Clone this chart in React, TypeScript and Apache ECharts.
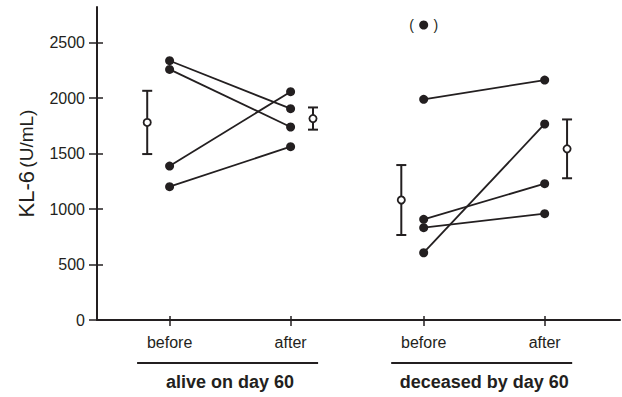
import React, { useEffect, useRef } from "react";
import * as echarts from "echarts";

// ---- data ----
const yTicks = [0, 500, 1000, 1500, 2000, 2500];
const yMax = 2820;
const timepoints = ["before", "after", "before", "after"];
const timepointPos = [1.2, 3.2, 5.4, 7.4];
const groups = ["alive on day 60", "deceased by day 60"];
const aliveBefore = [2336, 2258, 1387, 1201];
const aliveAfter = [1904, 1739, 2057, 1562];
const deceasedBefore = [1988, 606, 907, 832];
const deceasedAfter = [2162, 1766, 1228, 958];
const deceasedBeforeOutlier = [2658];
const meanValues = [1780, 1815, 1081, 1542];
const sdValues = [285, 100, 315, 265];

// ---- style ----
const INK = "#231f20";
const FONT = "'Liberation Sans', Arial, Helvetica, sans-serif";
const MEAN_OFFSET = 0.37;
const meanSide = [-1, 1, -1, 1];

export default function App() {
  const ref = useRef<HTMLDivElement>(null);

  useEffect(() => {
    if (!ref.current) return;
    const chart = echarts.init(ref.current, null, { renderer: "svg" });

    const subjectSeries: any[] = [];
    const addGroup = (before: number[], after: number[], bIdx: number, aIdx: number) => {
      before.forEach((v, i) => {
        subjectSeries.push({
          type: "line",
          data: [
            [timepointPos[bIdx], v],
            [timepointPos[aIdx], after[i]],
          ],
          symbol: "circle",
          symbolSize: 9,
          itemStyle: { color: INK, opacity: 1 },
          lineStyle: { color: INK, width: 1.8 },
          z: 3,
        });
      });
    };
    addGroup(aliveBefore, aliveAfter, 0, 1);
    addGroup(deceasedBefore, deceasedAfter, 2, 3);

    const meanData = meanValues.map((m, i) => [
      timepointPos[i] + meanSide[i] * MEAN_OFFSET,
      m,
      sdValues[i],
    ]);

    const labelFor = (v: number) => {
      const idx = timepointPos.findIndex((p) => Math.abs(p - v) < 1e-6);
      return idx >= 0 ? timepoints[idx] : "";
    };

    const baseX = {
      type: "value",
      min: 0,
      max: 8.645,
      position: "bottom",
      splitLine: { show: false },
    };
    const baseY = {
      type: "value",
      min: 0,
      max: yMax,
      position: "left",
      splitLine: { show: false },
    };

    const option: any = {
      animation: false,
      grid: { left: 97, top: 7, right: 2, bottom: 77, outerBoundsMode: "none" },
      xAxis: [
        {
          ...baseX,
          axisLine: { show: true, lineStyle: { color: INK, width: 2 } },
          axisTick: {
            show: true,
            customValues: timepointPos,
            length: 6,
            lineStyle: { color: INK, width: 1.5 },
          },
          axisLabel: {
            customValues: timepointPos,
            formatter: (v: number) => labelFor(v),
            margin: 14,
            fontSize: 16,
            fontFamily: FONT,
            color: INK,
          },
        },
        {
          ...baseX,
          axisLine: { show: false },
          axisTick: {
            show: true,
            inside: true,
            customValues: timepointPos,
            length: 4,
            lineStyle: { color: INK, width: 1.5 },
          },
          axisLabel: { show: false },
        },
      ],
      yAxis: [
        {
          ...baseY,
          axisLine: { show: true, lineStyle: { color: INK, width: 2 } },
          axisTick: {
            show: true,
            customValues: yTicks,
            length: 8,
            lineStyle: { color: INK, width: 1.5 },
          },
          axisLabel: {
            customValues: yTicks,
            formatter: (v: number) => String(v),
            margin: 12,
            fontSize: 16,
            fontFamily: FONT,
            color: INK,
          },
          name: "{a|KL-6} {b|(U/mL)}",
          nameLocation: "middle",
          nameRotate: 90,
          nameGap: 60,
          nameTextStyle: {
            color: INK,
            fontFamily: FONT,
            rich: {
              a: { fontSize: 22, fontFamily: FONT, color: INK },
              b: { fontSize: 19, fontFamily: FONT, color: INK },
            },
          },
        },
        {
          ...baseY,
          axisLine: { show: false },
          axisTick: {
            show: true,
            inside: true,
            customValues: yTicks,
            length: 6,
            lineStyle: { color: INK, width: 1.5 },
          },
          axisLabel: { show: false },
        },
      ],
      series: [
        ...subjectSeries,
        {
          type: "scatter",
          data: deceasedBeforeOutlier.map((v) => [timepointPos[2], v]),
          symbol: "circle",
          symbolSize: 9,
          itemStyle: { color: INK, opacity: 1 },
          label: {
            show: true,
            position: "inside",
            formatter: "(     )",
            fontSize: 14,
            fontFamily: FONT,
            color: INK,
          },
          z: 3,
        },
        {
          type: "custom",
          data: meanData,
          z: 4,
          renderItem: (params: any, api: any) => {
            const x = api.value(0);
            const m = api.value(1);
            const sd = api.value(2);
            const c = api.coord([x, m]);
            const top = api.coord([x, m + sd]);
            const bot = api.coord([x, m - sd]);
            const cap = 5;
            const ls = { stroke: INK, lineWidth: 2 };
            return {
              type: "group",
              children: [
                { type: "line", shape: { x1: c[0], y1: top[1], x2: c[0], y2: bot[1] }, style: ls },
                { type: "line", shape: { x1: c[0] - cap, y1: top[1], x2: c[0] + cap, y2: top[1] }, style: ls },
                { type: "line", shape: { x1: c[0] - cap, y1: bot[1], x2: c[0] + cap, y2: bot[1] }, style: ls },
                {
                  type: "circle",
                  shape: { cx: c[0], cy: c[1], r: 3.6 },
                  style: { fill: "#ffffff", stroke: INK, lineWidth: 1.8 },
                },
              ],
            };
          },
        },
      ],
    };

    chart.setOption(option);

    const px = (v: number) => chart.convertToPixel({ xAxisIndex: 0 }, v) as number;
    const graphic: any[] = [];
    groups.forEach((g, i) => {
      const a = px(timepointPos[2 * i]);
      const b = px(timepointPos[2 * i + 1]);
      const c = (a + b) / 2;
      graphic.push({
        type: "line",
        shape: { x1: c - 93, y1: 363, x2: c + 88, y2: 363 },
        style: { stroke: INK, lineWidth: 1.8 },
      });
      graphic.push({
        type: "text",
        x: c,
        y: 382,
        style: {
          text: g,
          align: "center",
          verticalAlign: "middle",
          fontSize: 18,
          fontWeight: "bold",
          fontFamily: FONT,
          fill: INK,
        },
      });
    });
    chart.setOption({ graphic });

    return () => chart.dispose();
  }, []);

  return (
    <div
      ref={ref}
      style={{ position: "fixed", left: 0, top: 0, width: 622, height: 397, background: "#fff" }}
    />
  );
}
